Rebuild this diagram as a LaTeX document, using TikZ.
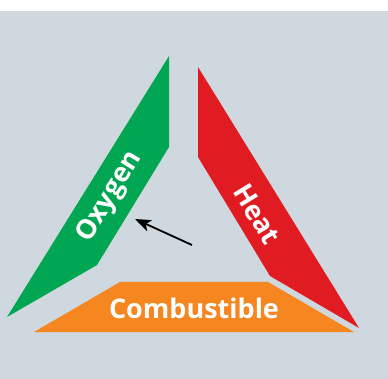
\documentclass[tikz,border=0pt]{standalone}
\usepackage{fontspec}
\setmainfont{Open Sans}
\usetikzlibrary{arrows.meta}
\definecolor{bggray}{HTML}{CFD8DF}
\definecolor{fgreen}{HTML}{00A651}
\definecolor{fred}{HTML}{E11B22}
\definecolor{forange}{HTML}{F58620}
\begin{document}
\begin{tikzpicture}[x=1pt,y=-1pt,
  label/.style={text=white,font=\fontsize{27}{30}\selectfont\bfseries,inner sep=0pt}]
\useasboundingbox (0,0) rectangle (388,379);
\fill[white] (0,0) rectangle (388,379);
\fill[bggray] (0,11) rectangle (388,379);
% sides
\fill[fgreen] (169,56) -- (169,147) -- (97,265) -- (7,317) -- cycle;
\fill[fred] (198,67) -- (198,157) -- (270,276) -- (359,328) -- cycle;
\fill[forange] (120,282) -- (268,282) -- (354,332) -- (34,332) -- cycle;
% labels
\node[label,rotate=58.5] (oxy) at (110,197) {Oxygen};
\node[label,rotate=-58.5] (heat) at (257,214) {Heat};
\node[label] (comb) at (194,308) {Combustible};
% arrow
\coordinate (atail) at (192,245);
\coordinate (ahead) at (135,219);
\draw[line width=1.8pt,-{Stealth[length=16pt,width=12pt,inset=4pt]}] (atail) -- (ahead);
\end{tikzpicture}
\end{document}
